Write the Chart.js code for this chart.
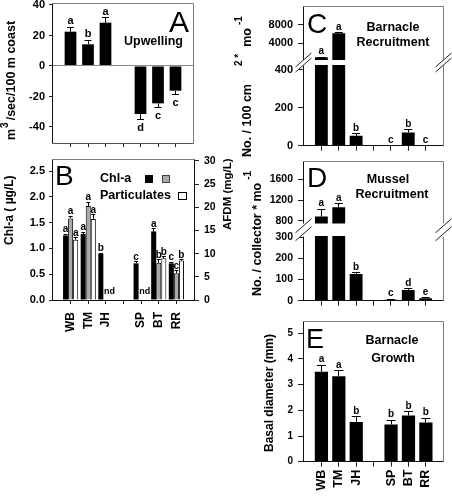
<!DOCTYPE html>
<html><head><meta charset="utf-8">
<script src="https://cdn.jsdelivr.net/npm/chart.js@4.4.1/dist/chart.umd.min.js"></script>
<style>
html,body{margin:0;padding:0;background:#fff;}
#wrap{position:relative;width:452px;height:497px;overflow:hidden;background:#fff;}
#wrap canvas{position:absolute;left:0;top:0;}
</style></head><body><div id="wrap"></div>
<script>
// ---------------- data ----------------
const sites = ['WB','TM','JH','SP','BT','RR'];

const upwelling     = [22.5, 14.2, 28.4, -31.5, -24.5, -16.2];
const upwellingSE   = [2.9, 2.8, 3.3, 3.3, 2.6, 2.2];
const upwellingSig  = ['a','b','a','d','c','c'];

const chlBlack      = [1.25, 1.28, 0.90, 0.71, 1.33, 0.71];
const chlBlackSE    = [0.02, 0.03, 0.01, 0.03, 0.05, 0.02];
const chlBlackSig   = ['a','a','b','c','a','c'];
const chlGray       = [1.58, 1.82, null, null, 0.72, 0.52];
const chlGraySE     = [0.04, 0.07, 0, 0, 0.06, 0.05];
const chlGraySig    = ['a','a','nd','nd','b','c'];
const afdm          = [13.0, 17.5, null, null, 9.0, 8.5];
const afdmSE        = [0.4, 0.9, 0, 0, 0.3, 0.2];
const afdmSig       = ['a','a','','','b','b'];

const barnRecruit    = [950, 6200, 52, 0, 70, 0];
const barnRecruitSE  = [50, 120, 12, 0, 15, 0];
const barnRecruitSig = ['a','a','b','c','b','c'];

const musRecruit    = [880, 1060, 126, 5, 51, 12];
const musRecruitSE  = [140, 65, 6, 1, 5, 2];
const musRecruitSig = ['a','a','b','c','d','e'];

const barnGrowth    = [3.5, 3.33, 1.55, 1.45, 1.8, 1.53];
const barnGrowthSE  = [0.26, 0.21, 0.2, 0.17, 0.15, 0.16];
const barnGrowthSig = ['a','a','b','b','b','b'];

const ticksA      = [-40, -20, 0, 20, 40];
const ticksBLeft  = [0, 0.5, 1, 1.5, 2, 2.5];
const ticksBRight = [0, 5, 10, 15, 20, 25, 30];
const ticksCHigh  = [4000, 8000];
const ticksCLow   = [0, 200, 400];
const ticksDHigh  = [800, 1200, 1600];
const ticksDLow   = [0, 100, 200, 300];
const ticksE      = [0, 1, 2, 3, 4, 5];

// ---------------- helpers ----------------
const FONT = '"Liberation Sans", Arial, Helvetica, sans-serif';
const W = 452, H = 497;
const wrap = document.getElementById('wrap');
// category slots: blank edge, 3 sites, blank gap, 3 sites, blank edge
function spread(a){ return [null, a[0], a[1], a[2], null, a[3], a[4], a[5], null]; }
const xLabels = ['', sites[0], sites[1], sites[2], '', sites[3], sites[4], sites[5], ''];

function crisp(v){ return Math.round(v) + 0.5; }
function line(ctx, x1, y1, x2, y2, c, w){ ctx.strokeStyle=c; ctx.lineWidth=w||1; ctx.beginPath(); ctx.moveTo(x1,y1); ctx.lineTo(x2,y2); ctx.stroke(); }

function drawRuns(ctx, t){
  ctx.save();
  ctx.translate(t.x, t.y);
  if (t.rot) ctx.rotate(t.rot * Math.PI / 180);
  ctx.fillStyle = t.color || '#000';
  ctx.textBaseline = t.baseline || 'middle';
  ctx.textAlign = 'left';
  const runs = t.runs || [{t: t.t, size: t.size, weight: t.weight}];
  let total = 0;
  const ws = runs.map(r => { ctx.font = `${r.weight||'bold'} ${r.size}px ${FONT}`; const w = ctx.measureText(r.t).width; total += (r.gap||0) + w; return w; });
  let pos = t.align === 'center' ? -total/2 : (t.align === 'right' ? -total : 0);
  runs.forEach((r, i) => { pos += r.gap||0; ctx.font = `${r.weight||'bold'} ${r.size}px ${FONT}`; ctx.fillText(r.t, pos, r.dy||0); pos += ws[i]; });
  ctx.restore();
}

const decorPlugin = {
  id: 'decor',
  afterDatasetsDraw(chart, args, o){
    const ctx = chart.ctx, a = chart.chartArea;
    ctx.save();
    if (o.zeroLine){
      const y = crisp(chart.scales.y.getPixelForValue(0) - 0.5);
      line(ctx, a.left, y, a.right, y, '#8a8a8a', 1);
    }
    chart.data.datasets.forEach((ds, di) => {
      const meta = chart.getDatasetMeta(di);
      const ys = chart.scales[meta.yAxisID];
      meta.data.forEach((bar, i) => {
        const v = ds.data[i];
        const sig = ds.sig ? ds.sig[i] : null;
        if (v === null || v === undefined){
          if (sig === 'nd'){
            ctx.font = `bold 9px ${FONT}`; ctx.fillStyle='#000'; ctx.textAlign='center'; ctx.textBaseline='alphabetic';
            ctx.fillText('nd', bar.x + bar.width/2 + 1, a.bottom - 6);
          }
          return;
        }
        if (v < ys.min || v > ys.max) return;
        const se = ds.err ? (ds.err[i] || 0) : 0;
        const end = v >= 0 ? v + se : v - se;
        const yv = ys.getPixelForValue(v), ye = ys.getPixelForValue(end);
        if (se > 0){
          const xc = crisp(bar.x - 0.5);
          line(ctx, xc, yv, xc, ye, '#000', 1);
          const cw = o.capW || 6;
          const yc = crisp(ye - 0.5);
          line(ctx, bar.x - cw/2, yc, bar.x + cw/2, yc, '#000', 1);
        }
        if (sig){
          ctx.font = `bold ${o.letterSize||10}px ${FONT}`; ctx.fillStyle='#000'; ctx.textAlign='center';
          if (v >= 0){ ctx.textBaseline='alphabetic'; ctx.fillText(sig, bar.x, ye - (o.letterGap||3)); }
          else { ctx.textBaseline='top'; ctx.fillText(sig, bar.x, ye + (o.letterGap||3)); }
        }
      });
    });
    const f = o.frame || {};
    const L = crisp(a.left - 1), R = crisp(a.right - 0.5), T = crisp(a.top - 0.5), B = crisp(a.bottom - 0.5);
    if (f.top) line(ctx, L, T, R, T, f.top, 1);
    if (f.right) line(ctx, R, T, R, B, f.right, 1);
    if (f.bottom) line(ctx, L, B, R, B, f.bottom, 1);
    if (f.left) line(ctx, L, T, L, B, f.left, 1);
    if (o.breakGap){
      const yc = a.top - o.breakGap/2;
      const off = o.breakOff, dx = 8, dy = 7;
      [L, R].forEach(x => {
        ctx.fillStyle = '#fff';
        ctx.beginPath();
        ctx.moveTo(x-dx, yc-off+dy); ctx.lineTo(x+dx, yc-off-dy); ctx.lineTo(x+dx, yc+off-dy); ctx.lineTo(x-dx, yc+off+dy); ctx.closePath(); ctx.fill();
        line(ctx, x-dx, yc-off+dy, x+dx, yc-off-dy, '#222', 1);
        line(ctx, x-dx, yc+off+dy, x+dx, yc+off-dy, '#222', 1);
      });
    }
    (o.rects || []).forEach(r => {
      ctx.fillStyle = r.fill; ctx.fillRect(r.x, r.y, r.w, r.h);
      if (r.stroke){ ctx.strokeStyle = r.stroke; ctx.lineWidth = 1; ctx.strokeRect(r.x+0.5, r.y+0.5, r.w-1, r.h-1); }
    });
    (o.texts || []).forEach(t => drawRuns(ctx, t));
    ctx.restore();
  }
};

function yAxis(ax){
  return {
    type: 'linear', position: ax.position || 'left', min: ax.min, max: ax.max,
    afterBuildTicks: s => { s.ticks = ax.ticks.map(v => ({value: v})); },
    afterFit: s => { s.width = ax.width; s.paddingTop = 0; s.paddingBottom = 0; },
    grid: { drawOnChartArea: false, drawTicks: true, tickLength: ax.tickLen, color: '#222', lineWidth: 1 },
    border: { display: false },
    ticks: { padding: ax.pad, color: '#000', font: { family: FONT, size: ax.font, weight: 'bold' },
             callback: v => ax.fmt ? ax.fmt(v) : String(v) }
  };
}
function xAxis(x){
  return {
    type: 'category', offset: false, display: x.display,
    afterFit: s => { s.height = x.height; s.paddingLeft = 0; s.paddingRight = 0; },
    grid: { offset: false, drawOnChartArea: false, drawTicks: true, tickLength: x.tickLen || 4, lineWidth: 1,
            color: c => (c.index === 0 || c.index === 8) ? 'rgba(0,0,0,0)' : '#222' },
    border: { display: false },
    ticks: { display: !!x.labels, autoSkip: false, maxRotation: 90, minRotation: 90, padding: x.pad || 0,
             color: '#000', font: { family: FONT, size: x.font || 12, weight: 'bold' } }
  };
}
function makeChart(c){
  const cv = document.createElement('canvas'); cv.width = W; cv.height = H; wrap.appendChild(cv);
  let padL = c.plot.L, padR = W - c.plot.R, padT = c.plot.T, padB = H - c.plot.B;
  const scales = { x: xAxis(c.x) };
  if (c.x.display) padB -= c.x.height;
  c.yAxes.forEach(ax => { scales[ax.id] = yAxis(ax); if (ax.position === 'right') padR -= ax.width; else padL -= ax.width; });
  return new Chart(cv, {
    type: 'bar',
    data: { labels: xLabels, datasets: c.datasets },
    options: {
      responsive: false, animation: false, devicePixelRatio: 1, events: [],
      layout: { padding: { left: padL, right: padR, top: padT, bottom: padB } },
      scales,
      plugins: { legend: { display: false }, tooltip: { enabled: false }, decor: c.decor }
    },
    plugins: [decorPlugin]
  });
}
function blackSet(vals, se, sig, pct, axis){
  return { data: spread(vals), err: spread(se), sig: spread(sig), backgroundColor: '#000', borderWidth: 0,
           barPercentage: pct, categoryPercentage: 1, yAxisID: axis || 'y', clip: 0 };
}
const AX = '#111', FR = '#7a7a7a';

// ---------------- Panel A ----------------
makeChart({
  plot: { L: 53, T: 3, R: 193, B: 143 },
  x: { display: true, height: 6, tickLen: 4 },
  yAxes: [{ id: 'y', min: -50.5, max: 41.3, ticks: ticksA, width: 40, tickLen: 4, pad: 4, font: 11 }],
  datasets: [blackSet(upwelling, upwellingSE, upwellingSig, 0.67)],
  decor: { zeroLine: true, capW: 7, letterSize: 11, letterGap: 3,
    frame: { left: AX, bottom: '#555', top: FR, right: FR },
    texts: [
      { t: 'A', size: 30, weight: 'normal', x: 169, y: 32, baseline: 'alphabetic' },
      { t: 'Upwelling', size: 12.5, x: 183, y: 42, align: 'right' },
      { x: 12, y: 140, rot: -90, runs: [ { t: 'm', size: 12.5 }, { t: '3', size: 10, dy: -7, gap: 1 }, { t: '/sec/100 m coast', size: 12.5, gap: 2 } ] }
    ] }
});

// ---------------- Panel B ----------------
makeChart({
  plot: { L: 53, T: 159, R: 194, B: 300 },
  x: { display: true, height: 40, tickLen: 4, pad: 8, labels: true, font: 12 },
  yAxes: [
    { id: 'y', min: 0, max: 2.733, ticks: ticksBLeft, width: 40, tickLen: 4, pad: 4, font: 11, fmt: v => v.toFixed(1) },
    { id: 'y2', position: 'right', min: 0, max: 30.43, ticks: ticksBRight, width: 30, tickLen: 5, pad: 5, font: 10.5 }
  ],
  datasets: [
    { data: spread(chlBlack), err: spread(chlBlackSE), sig: spread(chlBlackSig), backgroundColor: '#000', borderWidth: 0,
      barPercentage: 1, categoryPercentage: 0.86, yAxisID: 'y', clip: 0 },
    { data: spread(chlGray), err: spread(chlGraySE), sig: spread(chlGraySig), backgroundColor: '#a8a8a8', borderColor: '#000', borderWidth: 1,
      barPercentage: 1, categoryPercentage: 0.86, yAxisID: 'y', clip: 0 },
    { data: spread(afdm), err: spread(afdmSE), sig: spread(afdmSig), backgroundColor: '#fff', borderColor: '#000', borderWidth: 1,
      barPercentage: 1, categoryPercentage: 0.86, yAxisID: 'y2', clip: 0 }
  ],
  decor: { capW: 4, letterSize: 10, letterGap: 2,
    frame: { left: AX, bottom: AX, top: FR, right: AX },
    rects: [
      { x: 145, y: 175, w: 8, h: 8, fill: '#000' },
      { x: 162, y: 175, w: 8, h: 8, fill: '#a8a8a8', stroke: '#444' },
      { x: 178, y: 192, w: 9, h: 8, fill: '#fff', stroke: '#000' }
    ],
    texts: [
      { t: 'B', size: 28, weight: 'normal', x: 55, y: 185, baseline: 'alphabetic' },
      { t: 'Chl-a', size: 12.5, x: 100, y: 179 },
      { t: 'Particulates', size: 12.5, x: 100, y: 196 },
      { x: 10, y: 245, rot: -90, runs: [ { t: 'Chl-a ( \u00b5g/L)', size: 12 } ] },
      { x: 228, y: 230, rot: -90, runs: [ { t: 'AFDM (mg/L)', size: 11.5 } ] }
    ] }
});

// ---------------- Panel C (broken axis) ----------------
makeChart({
  plot: { L: 304, T: 6, R: 443, B: 60 },
  x: { display: false, height: 0 },
  yAxes: [{ id: 'y', min: 350, max: 12150, ticks: ticksCHigh, width: 40, tickLen: 6, pad: 5, font: 11 }],
  datasets: [blackSet(barnRecruit, barnRecruitSE, barnRecruitSig, 0.74)],
  decor: { capW: 8, letterSize: 10, letterGap: 3,
    frame: { left: AX, top: FR, right: FR },
    texts: [
      { t: 'C', size: 28, weight: 'normal', x: 307, y: 33, baseline: 'alphabetic' },
      { t: 'Barnacle', size: 12.5, x: 393, y: 27.5, align: 'center' },
      { t: 'Recruitment', size: 12.5, x: 393, y: 43, align: 'center' },
      { x: 247.5, y: 157, rot: -90, runs: [
        { t: 'No. / 100 cm', size: 12.5 }, { t: '2 *', size: 10, dy: -8, gap: 18 },
        { t: 'mo', size: 12.5, gap: 7 }, { t: '-1', size: 10, dy: -8, gap: 3 } ] }
    ] }
});
makeChart({
  plot: { L: 304, T: 65, R: 443, B: 145.7 },
  x: { display: true, height: 6, tickLen: 5 },
  yAxes: [{ id: 'y', min: 0, max: 425, ticks: ticksCLow, width: 40, tickLen: 6, pad: 5, font: 11 }],
  datasets: [blackSet(barnRecruit, barnRecruitSE, barnRecruitSig, 0.74)],
  decor: { capW: 8, letterSize: 10, letterGap: 3, breakGap: 5, breakOff: 2.5,
    frame: { left: AX, bottom: AX, right: FR } }
});

// ---------------- Panel D (broken axis) ----------------
makeChart({
  plot: { L: 304, T: 161.7, R: 443, B: 223.5 },
  x: { display: false, height: 0 },
  yAxes: [{ id: 'y', min: 746, max: 1940, ticks: ticksDHigh, width: 40, tickLen: 6, pad: 5, font: 10.5 }],
  datasets: [blackSet(musRecruit, musRecruitSE, musRecruitSig, 0.74)],
  decor: { capW: 8, letterSize: 10, letterGap: 3,
    frame: { left: AX, top: FR, right: FR },
    texts: [
      { t: 'D', size: 28, weight: 'normal', x: 307, y: 187, baseline: 'alphabetic' },
      { t: 'Mussel', size: 12.5, x: 388, y: 180, align: 'center' },
      { t: 'Recruitment', size: 12.5, x: 392, y: 195, align: 'center' },
      { x: 258, y: 296, rot: -90, runs: [ { t: 'No. / collector * mo', size: 12.5 }, { t: '-1', size: 10, dy: -10, gap: 3 } ] }
    ] }
});
makeChart({
  plot: { L: 304, T: 236, R: 443, B: 300.7 },
  x: { display: true, height: 6, tickLen: 5 },
  yAxes: [{ id: 'y', min: 0, max: 306, ticks: ticksDLow, width: 40, tickLen: 6, pad: 5, font: 10.5 }],
  datasets: [blackSet(musRecruit, musRecruitSE, musRecruitSig, 0.74)],
  decor: { capW: 8, letterSize: 10, letterGap: 3, breakGap: 12.5, breakOff: 4,
    frame: { left: AX, bottom: AX, right: FR } }
});

// ---------------- Panel E ----------------
makeChart({
  plot: { L: 304, T: 321.7, R: 443.3, B: 461.7 },
  x: { display: true, height: 35.3, tickLen: 5, pad: 3, labels: true, font: 12.5 },
  yAxes: [{ id: 'y', min: 0, max: 5.45, ticks: ticksE, width: 40, tickLen: 6, pad: 5, font: 10 }],
  datasets: [blackSet(barnGrowth, barnGrowthSE, barnGrowthSig, 0.76)],
  decor: { capW: 9, letterSize: 10, letterGap: 3,
    frame: { left: AX, bottom: AX, top: FR, right: FR },
    texts: [
      { t: 'E', size: 27, weight: 'normal', x: 306, y: 348, baseline: 'alphabetic' },
      { t: 'Barnacle', size: 12.5, x: 392, y: 341, align: 'center' },
      { t: 'Growth', size: 12.5, x: 393, y: 359, align: 'center' },
      { x: 270, y: 393, rot: -90, align: 'center', runs: [ { t: 'Basal diameter (mm)', size: 12 } ] }
    ] }
});
</script></body></html>
